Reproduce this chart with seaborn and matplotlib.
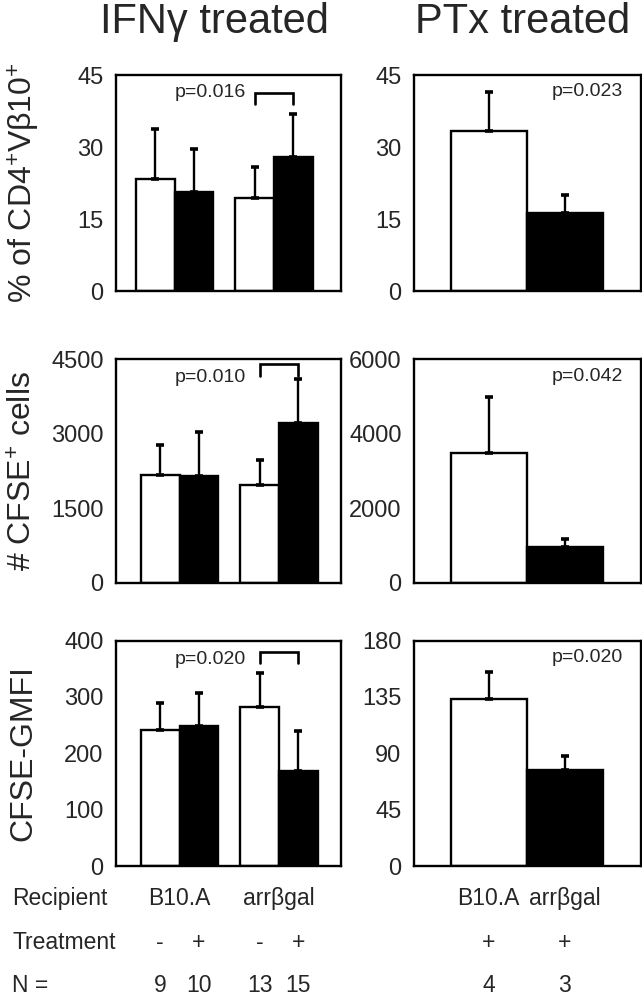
import matplotlib
matplotlib.use("Agg")
import matplotlib.pyplot as plt
import matplotlib.transforms as mtransforms
import pandas as pd
import seaborn as sns

# IFNγ treated groups (left column)
recipients = ["B10.A", "B10.A", "arrβgal", "arrβgal"]
treatments = ["-", "+", "-", "+"]
n_ifng = [9, 10, 13, 15]

pct_ifng = [23.3, 20.7, 19.4, 28.0]
pct_ifng_err = [10.4, 8.9, 6.4, 8.9]
cells_ifng = [2160, 2150, 1970, 3220]
cells_ifng_err = [610, 880, 510, 880]
gmfi_ifng = [241, 248, 282, 168]
gmfi_ifng_err = [49, 59, 61, 72]

# PTx treated groups (right column)
ptx_recipients = ["B10.A", "arrβgal"]
ptx_treatments = ["+", "+"]
n_ptx = [4, 3]

pct_ptx = [33.3, 16.2]
pct_ptx_err = [8.2, 3.8]
cells_ptx = [3470, 960]
cells_ptx_err = [1520, 225]
gmfi_ptx = [133, 77]
gmfi_ptx_err = [22, 10.5]

p_ifng = ["p=0.016", "p=0.010", "p=0.020"]
p_ptx = ["p=0.023", "p=0.042", "p=0.020"]
bracket_top = [41.3, 4405, 380]
bracket_leg = [39.0, 4170, 360]

ylabels = ["% of CD4$^{+}$Vβ10$^{+}$", "# CFSE$^{+}$ cells", "CFSE-GMFI"]
yticks_ifng = [[0, 15, 30, 45], [0, 1500, 3000, 4500], [0, 100, 200, 300, 400]]
yticks_ptx = [[0, 15, 30, 45], [0, 2000, 4000, 6000], [0, 45, 90, 135, 180]]

sns.set_style("white")
plt.rcParams["font.family"] = ["Liberation Sans", "DejaVu Sans"]
plt.rcParams["mathtext.fontset"] = "custom"
plt.rcParams["mathtext.rm"] = "Liberation Sans"
plt.rcParams["mathtext.it"] = "Liberation Sans"

fig = plt.figure(figsize=(6.42, 10.07), dpi=100)

rows = [(0.7110, 0.2145), (0.4214, 0.2218), (0.1400, 0.2239)]
left_xlims = [(-0.589, 1.675), (-0.638, 1.623), (-0.638, 1.623)]


def draw_errors(ax, errs):
    bars = sorted(ax.patches, key=lambda b: b.get_x())
    for bar, err in zip(bars, errs):
        xc = bar.get_x() + bar.get_width() / 2
        ax.errorbar(xc, bar.get_height(), yerr=[[0], [err]], fmt="none",
                    ecolor="black", elinewidth=1.7, capsize=3.2, capthick=2.6, zorder=3)
    return bars


def style_axes(ax, ticks):
    ax.set_ylim(0, ticks[-1])
    ax.set_yticks(ticks)
    ax.set_xticks([])
    ax.set_xlabel("")
    ax.set_ylabel("")
    ax.tick_params(axis="y", length=0, pad=9, labelsize=17)
    for s in ax.spines.values():
        s.set_visible(True)
        s.set_color("black")
        s.set_linewidth(1.7)


ifng_vals = [(pct_ifng, pct_ifng_err), (cells_ifng, cells_ifng_err), (gmfi_ifng, gmfi_ifng_err)]
ptx_vals = [(pct_ptx, pct_ptx_err), (cells_ptx, cells_ptx_err), (gmfi_ptx, gmfi_ptx_err)]

for i, (bottom, height) in enumerate(rows):
    # left: IFNγ treated
    axl = fig.add_axes([0.1807, bottom, 0.3505, height])
    vals, errs = ifng_vals[i]
    df = pd.DataFrame({"recipient": recipients, "treatment": treatments, "value": vals})
    sns.barplot(data=df, x="recipient", y="value", hue="treatment",
                order=["B10.A", "arrβgal"], hue_order=["-", "+"],
                palette={"-": "white", "+": "black"}, edgecolor="black",
                linewidth=1.7, width=0.78, errorbar=None, legend=False, ax=axl)
    bars_l = draw_errors(axl, errs)
    axl.set_xlim(*left_xlims[i])
    style_axes(axl, yticks_ifng[i])
    x3 = bars_l[2].get_x() + bars_l[2].get_width() / 2
    x4 = bars_l[3].get_x() + bars_l[3].get_width() / 2
    axl.plot([x3, x3, x4, x4], [bracket_leg[i], bracket_top[i], bracket_top[i], bracket_leg[i]],
             color="black", lw=1.9, solid_joinstyle="miter", clip_on=False)
    axl.text(0.418, 0.918, p_ifng[i], transform=axl.transAxes, ha="center", va="center", fontsize=14)
    axl.set_ylabel(ylabels[i], fontsize=23, va="center")
    axl.yaxis.set_label_coords(-0.41, 0.5)

    # right: PTx treated
    axr = fig.add_axes([0.6449, bottom, 0.3536, height])
    vals, errs = ptx_vals[i]
    df = pd.DataFrame({"recipient": ptx_recipients, "value": vals})
    sns.barplot(data=df, x="recipient", y="value", hue="recipient",
                order=ptx_recipients, palette={"B10.A": "white", "arrβgal": "black"},
                edgecolor="black", linewidth=1.7, width=1.0, errorbar=None,
                legend=False, ax=axr)
    bars_r = draw_errors(axr, errs)
    axr.set_xlim(-0.98, 2.0)
    style_axes(axr, yticks_ptx[i])
    axr.text(0.762, 0.925, p_ptx[i], transform=axr.transAxes, ha="center", va="center", fontsize=14)

    if i == 0:
        fig.text(214 / 642, 1 - 22 / 1007, "IFNγ treated", ha="center", va="center", fontsize=30)
        fig.text(523 / 642, 1 - 22 / 1007, "PTx treated", ha="center", va="center", fontsize=30)

    if i == 2:
        row_y = [-0.142, -0.337, -0.528]
        for label, yy in zip(["Recipient", "Treatment", "N ="], row_y):
            axl.text(-0.46, yy, label, transform=axl.transAxes, ha="left", va="center", fontsize=16.5)
        tl = mtransforms.blended_transform_factory(axl.transData, axl.transAxes)
        centers = [b.get_x() + b.get_width() / 2 for b in bars_l]
        for k, name in enumerate(["B10.A", "arrβgal"]):
            gx = (centers[2 * k] + centers[2 * k + 1]) / 2
            axl.text(gx, row_y[0], name, transform=tl, ha="center", va="center", fontsize=16.5, clip_on=False)
        for cx, tr, n in zip(centers, treatments, n_ifng):
            axl.text(cx, row_y[1], tr, transform=tl, ha="center", va="center", fontsize=16.5, clip_on=False)
            axl.text(cx, row_y[2], str(n), transform=tl, ha="center", va="center", fontsize=16.5, clip_on=False)
        tr_ = mtransforms.blended_transform_factory(axr.transData, axr.transAxes)
        for b, name, tr, n in zip(bars_r, ptx_recipients, ptx_treatments, n_ptx):
            cx = b.get_x() + b.get_width() / 2
            axr.text(cx, row_y[0], name, transform=tr_, ha="center", va="center", fontsize=16.5, clip_on=False)
            axr.text(cx, row_y[1], tr, transform=tr_, ha="center", va="center", fontsize=16.5, clip_on=False)
            axr.text(cx, row_y[2], str(n), transform=tr_, ha="center", va="center", fontsize=16.5, clip_on=False)

fig.savefig("out.png", dpi=100)
